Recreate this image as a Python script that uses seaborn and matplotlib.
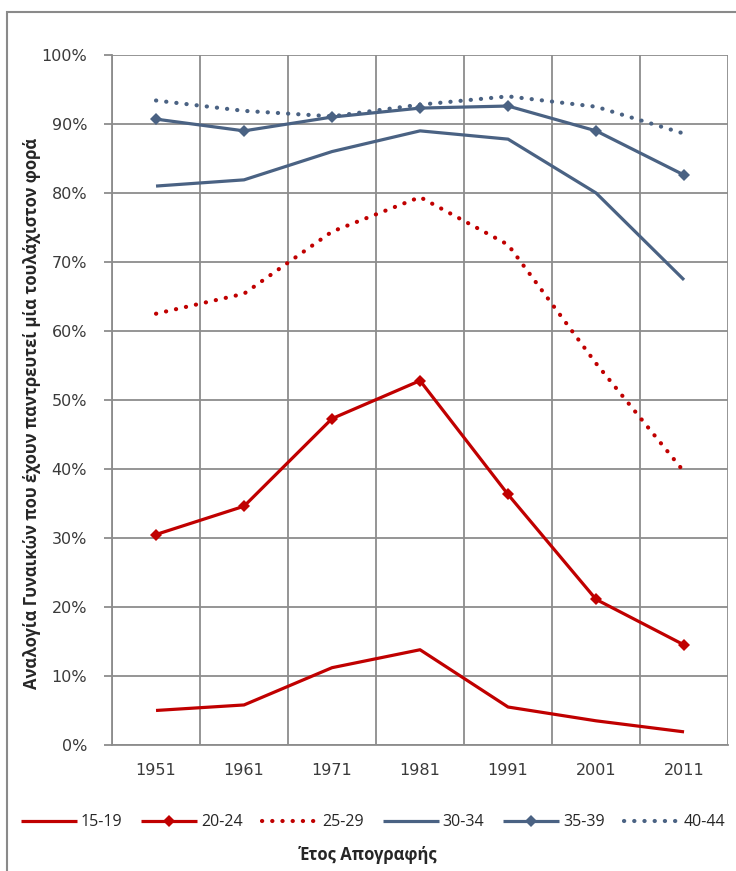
import pandas as pd
import matplotlib.pyplot as plt
import seaborn as sns
from matplotlib.patches import Rectangle
from matplotlib.ticker import PercentFormatter

years = ['1951', '1961', '1971', '1981', '1991', '2001', '2011']
age_groups = ['15-19', '20-24', '25-29', '30-34', '35-39', '40-44']
vals_15_19 = [5.0, 5.8, 11.2, 13.8, 5.5, 3.5, 1.9]
vals_20_24 = [30.5, 34.6, 47.3, 52.8, 36.3, 21.1, 14.5]
vals_25_29 = [62.5, 65.4, 74.4, 79.4, 72.5, 55.3, 39.6]
vals_30_34 = [81.0, 81.9, 86.0, 89.0, 87.8, 80.0, 67.4]
vals_35_39 = [90.7, 89.0, 91.0, 92.3, 92.6, 89.0, 82.6]
vals_40_44 = [93.4, 91.9, 91.1, 92.8, 94.0, 92.5, 88.6]
series = [vals_15_19, vals_20_24, vals_25_29, vals_30_34, vals_35_39, vals_40_44]

red = '#C00000'
blue = '#4A6283'
dots = (0, (0.05, 2.4))
styles = {
    '15-19': dict(color=red, linestyle='-', marker=None),
    '20-24': dict(color=red, linestyle='-', marker='D'),
    '25-29': dict(color=red, linestyle=dots, marker=None),
    '30-34': dict(color=blue, linestyle='-', marker=None),
    '35-39': dict(color=blue, linestyle='-', marker='D'),
    '40-44': dict(color=blue, linestyle=dots, marker=None),
}

sns.set_style('white')
plt.rcParams['font.family'] = ['DejaVu Sans']
label_font = ['Open Sans', 'DejaVu Sans']

fig = plt.figure(figsize=(7.36, 8.71), dpi=100)
ax = fig.add_axes([0.1522, 0.1447, 0.837, 0.7922])

for name, vals in zip(age_groups, series):
    df = pd.DataFrame({'Έτος': years, 'Ποσοστό': vals})
    st = styles[name]
    sns.lineplot(data=df, x='Έτος', y='Ποσοστό', ax=ax, color=st['color'],
                 linestyle=st['linestyle'], marker=st['marker'], markersize=6.5,
                 markeredgewidth=0, linewidth=2.3 if st['linestyle'] == '-' else 3.0,
                 dash_capstyle='round', solid_capstyle='butt', label=name)

ax.set_xlim(-0.5, 6.5)
ax.set_ylim(0, 100)
ax.set_yticks(range(0, 101, 10))
ax.yaxis.set_major_formatter(PercentFormatter(decimals=0))
ax.set_xticks([i - 0.5 for i in range(8)], minor=True)
ax.grid(True, which='minor', axis='x', color='#8C8C8C', linewidth=1.3)
ax.grid(True, which='major', axis='y', color='#8C8C8C', linewidth=1.3)
ax.tick_params(axis='x', which='major', length=0, pad=13, labelsize=11.5, colors='#3A3A3A')
ax.tick_params(axis='x', which='minor', length=6, color='#8C8C8C', width=1.3)
ax.tick_params(axis='y', which='major', length=6, color='#8C8C8C', width=1.3,
               pad=12, labelsize=11.5, labelcolor='#3A3A3A', left=True)
for s in ['top', 'right']:
    ax.spines[s].set_visible(False)
for s in ['left', 'bottom']:
    ax.spines[s].set_color('#8C8C8C')
    ax.spines[s].set_linewidth(1.3)
ax.set_xlabel('')
ax.set_ylabel('Αναλογία Γυναικών που έχουν παντρευτεί μία τουλάχιστον φορά',
              family=label_font, fontsize=12, fontweight='bold')
ax.yaxis.set_label_coords(-0.115, 0.48)

handles, labels = ax.get_legend_handles_labels()
ax.get_legend().remove()
fig.legend(handles, labels, loc='center', bbox_to_anchor=(0.507, 0.056), ncol=6,
           frameon=False, handlelength=3.5, handletextpad=0.25, columnspacing=1.2,
           prop={'family': label_font, 'size': 11.5})
fig.text(0.5, 0.018, 'Έτος Απογραφής', ha='center', va='center', fontsize=12,
         fontweight='bold', family=label_font)

fig.patches.append(Rectangle((0.0095, -0.05), 1.2, 1.036, transform=fig.transFigure,
                             fill=False, edgecolor='#8A8A8A', linewidth=1.5))

fig.savefig('out.png', dpi=100)
